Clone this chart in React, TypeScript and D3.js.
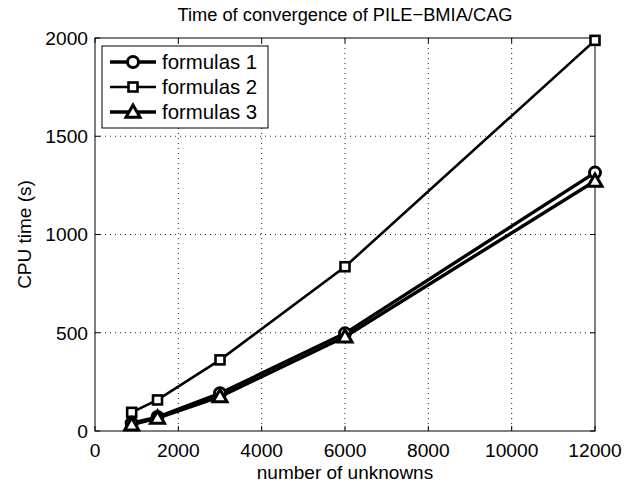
import React from "react";
import * as d3 from "d3";

const unknowns = [880, 1500, 3000, 6000, 12000];
const formulas1 = [40, 71, 192, 497, 1315];
const formulas2 = [95, 158, 362, 836, 1988];
const formulas3 = [32, 66, 175, 480, 1272];
const seriesNames = ["formulas 1", "formulas 2", "formulas 3"];
const xTicks = [0, 2000, 4000, 6000, 8000, 10000, 12000];
const yTicks = [0, 500, 1000, 1500, 2000];

const W = 639, H = 485;
const M = { left: 95, right: 595, top: 38, bottom: 431 };
const FONT = "'Liberation Sans', Arial, Helvetica, sans-serif";

function Marker({ kind, x, y }: { kind: string; x: number; y: number }) {
  if (kind === "circle")
    return <circle cx={x} cy={y} r={5.5} fill="white" stroke="black" strokeWidth={3} />;
  if (kind === "square")
    return <rect x={x - 4.5} y={y - 4.5} width={9} height={9} fill="white" stroke="black" strokeWidth={2.6} />;
  const s = 7;
  return (
    <path
      d={`M${x},${y - s} L${x + s},${y + s * 0.75} L${x - s},${y + s * 0.75} Z`}
      fill="white"
      stroke="black"
      strokeWidth={3}
      strokeLinejoin="miter"
    />
  );
}

export default function App() {
  const x = d3.scaleLinear().domain([0, 12000]).range([M.left, M.right]);
  const y = d3.scaleLinear().domain([0, 2000]).range([M.bottom, M.top]);
  const series = [
    { name: seriesNames[0], vals: formulas1, kind: "circle", lw: 3.4 },
    { name: seriesNames[1], vals: formulas2, kind: "square", lw: 2.6 },
    { name: seriesNames[2], vals: formulas3, kind: "triangle", lw: 3.4 },
  ];
  const line = d3
    .line<number>()
    .x((_, i) => x(unknowns[i]))
    .y((d) => y(d));

  const lg = { x: 102, y: 46, w: 166, h: 82 };

  return (
    <svg
      width={W}
      height={H}
      style={{ position: "absolute", left: 0, top: 0, background: "white" }}
      fontFamily={FONT}
    >
      <rect x={0} y={0} width={W} height={H} fill="white" />
      {xTicks.slice(1, -1).map((t) => (
        <line key={"gx" + t} x1={x(t)} x2={x(t)} y1={M.top} y2={M.bottom} stroke="#222" strokeWidth={1} strokeDasharray="1,4" />
      ))}
      {yTicks.slice(1, -1).map((t) => (
        <line key={"gy" + t} x1={M.left} x2={M.right} y1={y(t)} y2={y(t)} stroke="#222" strokeWidth={1} strokeDasharray="1,4" />
      ))}
      {xTicks.map((t) => (
        <g key={"tx" + t}>
          <line x1={x(t)} x2={x(t)} y1={M.bottom} y2={M.bottom - 5} stroke="black" />
          <line x1={x(t)} x2={x(t)} y1={M.top} y2={M.top + 5} stroke="black" />
          <text x={x(t)} y={457} textAnchor="middle" fontSize={19.2} fill="black">
            {t}
          </text>
        </g>
      ))}
      {yTicks.map((t) => (
        <g key={"ty" + t}>
          <line x1={M.left} x2={M.left + 5} y1={y(t)} y2={y(t)} stroke="black" />
          <line x1={M.right} x2={M.right - 5} y1={y(t)} y2={y(t)} stroke="black" />
          <text x={88} y={y(t)} dy="0.36em" textAnchor="end" fontSize={19.2} fill="black">
            {t}
          </text>
        </g>
      ))}
      <rect x={M.left} y={M.top} width={M.right - M.left} height={M.bottom - M.top} fill="none" stroke="black" strokeWidth={1} />
      {series.map((s) => (
        <g key={s.name}>
          <path d={line(s.vals) || ""} fill="none" stroke="black" strokeWidth={s.lw} />
          {s.vals.map((v, i) => (
            <Marker key={i} kind={s.kind} x={x(unknowns[i])} y={y(v)} />
          ))}
        </g>
      ))}
      <rect x={lg.x} y={lg.y} width={lg.w} height={lg.h} fill="white" stroke="black" strokeWidth={1} />
      {series.map((s, i) => {
        const yy = 62 + i * 25;
        return (
          <g key={"lg" + s.name}>
            <line x1={110} x2={156} y1={yy} y2={yy} stroke="black" strokeWidth={s.lw} />
            <Marker kind={s.kind} x={133} y={yy} />
            <text x={162} y={yy} dy="0.36em" fontSize={20.4} fill="black">
              {s.name}
            </text>
          </g>
        );
      })}
      <text x={(M.left + M.right) / 2} y={21} textAnchor="middle" fontSize={18.3} fill="black">
        Time of convergence of PILE−BMIA/CAG
      </text>
      <text x={(M.left + M.right) / 2} y={479} textAnchor="middle" fontSize={19} fill="black">
        number of unknowns
      </text>
      <text
        transform={`translate(31,${(M.top + M.bottom) / 2}) rotate(-90)`}
        textAnchor="middle"
        fontSize={19}
        fill="black"
      >
        CPU time (s)
      </text>
    </svg>
  );
}
